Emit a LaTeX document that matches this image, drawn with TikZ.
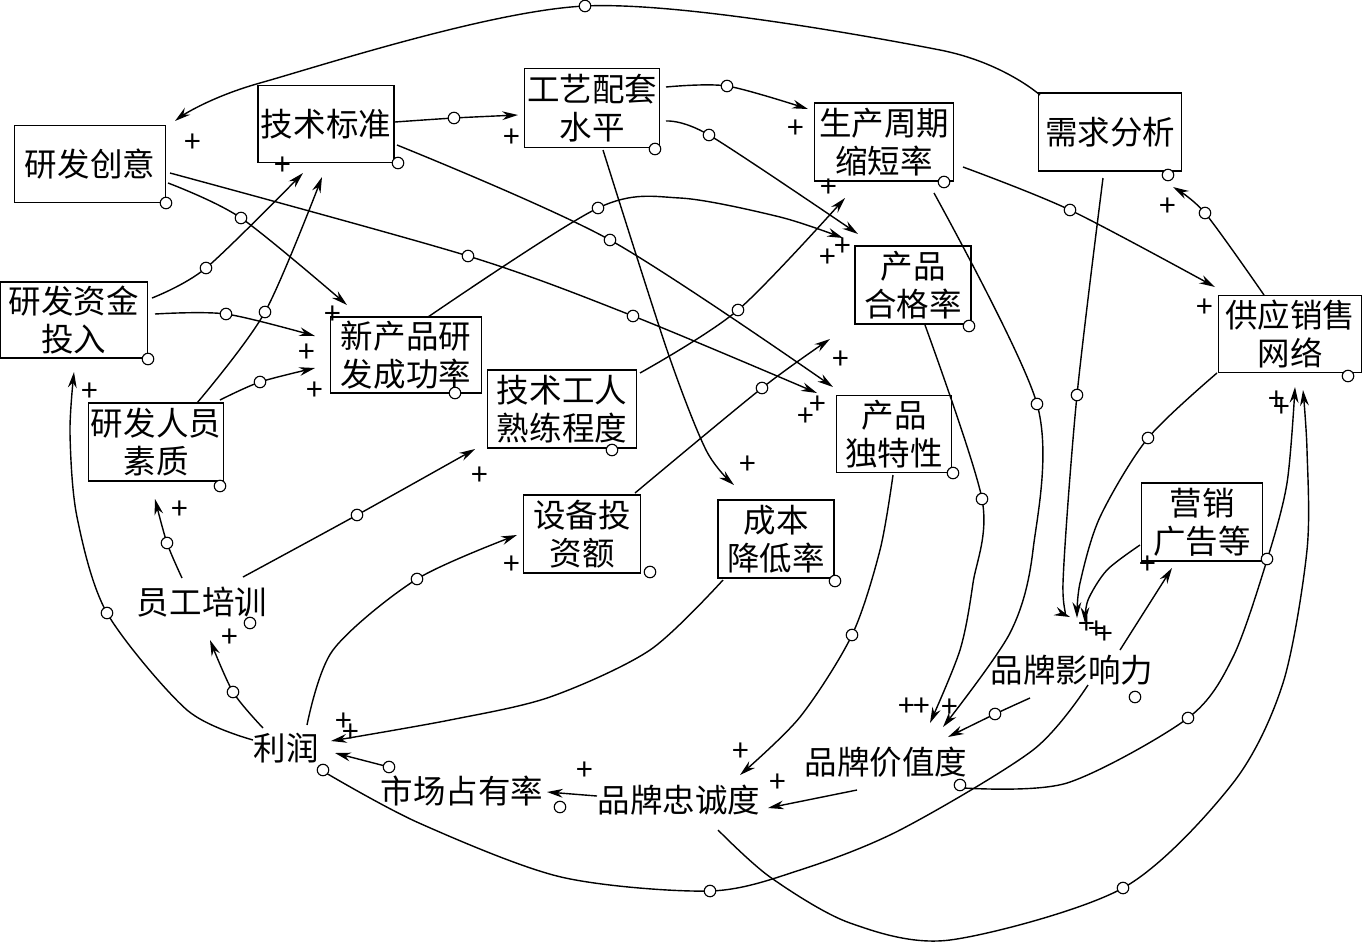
\documentclass[tikz,border=0pt]{standalone}
\usepackage{fontspec}
\newfontfamily\cjk{Noto Sans CJK SC}
\usetikzlibrary{calc}
\usetikzlibrary{arrows.meta}

\begin{document}
\begin{tikzpicture}[x=0.02cm, y=-0.02cm,
  box/.style={draw, line width=1pt, align=center, inner sep=1pt, font=\cjk\fontsize{18.5}{21.5}\selectfont},
  word/.style={inner sep=0pt, font=\cjk\fontsize{18.5}{21.5}\selectfont},
  hdl/.style={circle, draw, fill=white, line width=0.65pt, minimum size=0.23cm, inner sep=0pt},
  lne/.style={line width=0.8pt},
  lnk/.style={lne, -{Stealth[length=9pt,width=5pt]}},
  pls/.style={inner sep=0pt, font=\cjk\fontsize{17}{17}\selectfont}]
\useasboundingbox (0,0) rectangle (1362,944);

\node[box, minimum width=3.02cm, minimum height=1.54cm] (A) at (90,164) {研发创意};
\node[box, minimum width=2.72cm, minimum height=1.54cm] (B) at (326,124) {技术标准};
\node[box, minimum width=2.70cm, minimum height=1.58cm] (C) at (592,108) {工艺配套\\水平};
\node[box, minimum width=2.78cm, minimum height=1.56cm] (D) at (884,142) {生产周期\\缩短率};
\node[box, minimum width=2.86cm, minimum height=1.56cm] (E) at (1110,132) {需求分析};
\node[box, minimum width=2.94cm, minimum height=1.52cm] (F) at (74,320) {研发资金\\投入};
\node[box, minimum width=3.02cm, minimum height=1.52cm] (G) at (406,355) {新产品研\\发成功率};
\node[box, minimum width=2.32cm, minimum height=1.56cm] (H) at (913,285) {产品\\合格率};
\node[box, minimum width=2.86cm, minimum height=1.54cm] (I) at (1290,334) {供应销售\\网络};
\node[box, minimum width=2.70cm, minimum height=1.56cm] (J) at (156,442) {研发人员\\素质};
\node[box, minimum width=2.98cm, minimum height=1.56cm] (K) at (562,409) {技术工人\\熟练程度};
\node[box, minimum width=2.30cm, minimum height=1.54cm] (L) at (894,434) {产品\\独特性};
\node[box, minimum width=2.34cm, minimum height=1.56cm] (M) at (582,534) {设备投\\资额};
\node[box, minimum width=2.32cm, minimum height=1.56cm] (N) at (776,539) {成本\\降低率};
\node[box, minimum width=2.42cm, minimum height=1.56cm] (O) at (1202,522) {营销\\广告等};
\node[word] (P) at (202,602) {员工培训};
\node[word] (Q) at (286,748) {利润};
\node[word] (R) at (462,791) {市场占有率};
\node[word] (S) at (679,800) {品牌忠诚度};
\node[word] (T) at (886,762) {品牌价值度};
\node[word] (U) at (1072,670) {品牌影响力};

\foreach \x/\y [count=\i] in {585/6, 241/218, 468/256, 633/316, 454/118, 610/240, 727/86, 709/135,
  598/208, 738/310, 762/388, 1070/210, 1205/213, 1077/395, 1148/438, 995/714, 1037/404, 982/499,
  852/635, 389/767, 1188/718, 1123/888, 710/891, 417/579, 233/692, 107/613, 167/543, 357/515,
  260/382, 265/312, 206/268, 226/314}
  \coordinate (h\i) at (\x,\y);

\draw[lnk] plot[smooth] coordinates {($(E)+(-70,-37)$) (940,50) (h1) (260,83) ($(A)+(85,-43)$)};
\draw[lnk] plot[smooth] coordinates {($(A)+(78,19)$) (h2) ($(G)+(-59,-50)$)};
\draw[lnk] plot[smooth] coordinates {($(A)+(80,9)$) (h3) (h4) ($(L)+(-77,-41)$)};
\draw[lnk] plot[smooth] coordinates {($(B)+(69,-2)$) (h5) ($(C)+(-74,7)$)};
\draw[lnk] plot[smooth] coordinates {($(B)+(71,21)$) (h6) ($(L)+(-61,-47)$)};
\draw[lnk] plot[smooth] coordinates {($(C)+(74,-21)$) (h7) ($(D)+(-76,-33)$)};
\draw[lnk] plot[smooth] coordinates {($(C)+(74,13)$) (h8) ($(H)+(-55,-51)$)};
\draw[lnk] plot[smooth] coordinates {($(C)+(11,42)$) (667,350) (706,450) ($(N)+(-42,-54)$)};
\draw[lnk] plot[smooth] coordinates {($(G)+(22,-38)$) (h9) (680,198) (780,217) ($(H)+(-70,-47)$)};
\draw[lnk] plot[smooth] coordinates {($(K)+(78,-36)$) (h10) ($(D)+(-39,56)$)};
\draw[lnk] plot[smooth] coordinates {($(M)+(53,-41)$) (h11) ($(H)+(-83,54)$)};
\draw[lnk] plot[smooth] coordinates {($(D)+(79,25)$) (h12) ($(I)+(-75,-47)$)};
\draw[lnk] plot[smooth] coordinates {($(I)+(-26,-39)$) (h13) ($(E)+(63,55)$)};
\draw[lnk] plot[smooth] coordinates {($(E)+(-7,46)$) (h14) (1063,583) ($(U)+(-2,-53)$)};
\draw[lnk] plot[smooth] coordinates {($(I)+(-73,39)$) (h15) (1100,517) (1080,583) ($(U)+(5,-52)$)};
\draw[lnk] plot[smooth] coordinates {($(O)+(-62,23)$) (1107,570) (1088,600) ($(U)+(13,-47)$)};
\draw[lnk] ($(U)+(48,-20)$) -- ($(O)+(-30,46)$);
\draw[lnk] plot[smooth] coordinates {($(U)+(-42,28)$) (h16) ($(T)+(62,-25)$)};
\draw[lnk] plot[smooth] coordinates {($(D)+(50,51)$) (h17) (1033,550) (1010,633) ($(T)+(57,-35)$)};
\draw[lnk] plot[smooth] coordinates {($(H)+(12,40)$) (h18) (973,583) (960,650) ($(T)+(44,-39)$)};
\draw[lnk] plot[smooth] coordinates {($(L)+(-1,41)$) (880,550) (h19) (800,717) ($(S)+(61,-25)$)};
\draw[lnk] ($(T)+(-29,28)$) -- ($(S)+(89,8)$);
\draw[lnk] ($(S)+(-82,-4)$) -- ($(R)+(85,1)$);
\draw[lnk] ($(R)+(-73,-24)$) -- ($(Q)+(49,5)$);
\draw[lnk] plot[smooth] coordinates {($(N)+(-53,41)$) (650,650) (550,697) (450,720) ($(Q)+(45,-7)$)};
\draw[lnk] plot[smooth] coordinates {($(T)+(78,26)$) (1067,783) (h21) (1233,657) (1267,560) (1287,483) ($(I)+(5,53)$)};
\draw[lnk] plot[smooth] coordinates {($(S)+(39,30)$) (770,877) (850,923) (950,940) (h22) (1233,783) (1283,683) (1307,550) (1307,450) ($(I)+(13,56)$)};
\draw[lne] plot[smooth] coordinates {($(Q)+(40,25)$) (419,823) (561,877) (h23) (800,870) (900,830) (1033,750) ($(U)+(16,15)$)};
\draw[lnk] plot[smooth] coordinates {($(Q)+(21,-23)$) (333,650) (h24) ($(M)+(-65,1)$)};
\draw[lnk] plot[smooth] coordinates {($(Q)+(-23,-20)$) (h25) ($(P)+(8,38)$)};
\draw[lnk] plot[smooth] coordinates {($(Q)+(-33,-8)$) (187,710) (h26) (77,517) (70,433) ($(F)+(0,52)$)};
\draw[lnk] plot[smooth] coordinates {($(P)+(-20,-24)$) (h27) ($(J)+(-1,57)$)};
\draw[lnk] plot[smooth] coordinates {($(P)+(41,-25)$) (h28) ($(K)+(-87,40)$)};
\draw[lnk] plot[smooth] coordinates {($(J)+(64,-42)$) (h29) ($(G)+(-91,13)$)};
\draw[lnk] plot[smooth] coordinates {($(J)+(41,-39)$) (h30) ($(B)+(-4,53)$)};
\draw[lnk] plot[smooth] coordinates {($(F)+(78,-22)$) (h31) ($(B)+(-23,49)$)};
\draw[lnk] plot[smooth] coordinates {($(F)+(81,-6)$) (h32) ($(G)+(-91,-19)$)};

\foreach \i in {1,...,32}
  \node[hdl] (hc\i) at (h\i) {};
\foreach \v/\dx/\dy in {A/76/39, B/72/39, C/63/41, D/60/40, E/58/43, F/74/39, G/49/38, H/56/41,
  I/58/42, J/64/44, K/50/41, L/59/39, M/68/38, N/59/42, O/65/37, P/48/21, Q/37/22, R/98/16,
  T/74/23, U/63/27}
  \node[hdl] (\v-o) at ($(\v)+(\dx,\dy)$) {};
\foreach \x/\y [count=\i] in {193/143, 333/315, 307/353, 315/391, 283/166, 512/138, 796/129, 829/188,
  828/258, 843/247, 841/360, 806/417, 818/405, 748/465, 1205/308, 1168/207, 1277/400, 1282/408,
  1148/565, 1087/625, 1097/630, 1105/635, 907/707, 922/707, 950/708, 741/752, 778/783, 585/771,
  344/722, 351/733, 512/565, 230/638, 90/392, 180/510, 480/476}
  \node[pls] (p\i) at (\x,\y) {+};
\end{tikzpicture}
\end{document}
